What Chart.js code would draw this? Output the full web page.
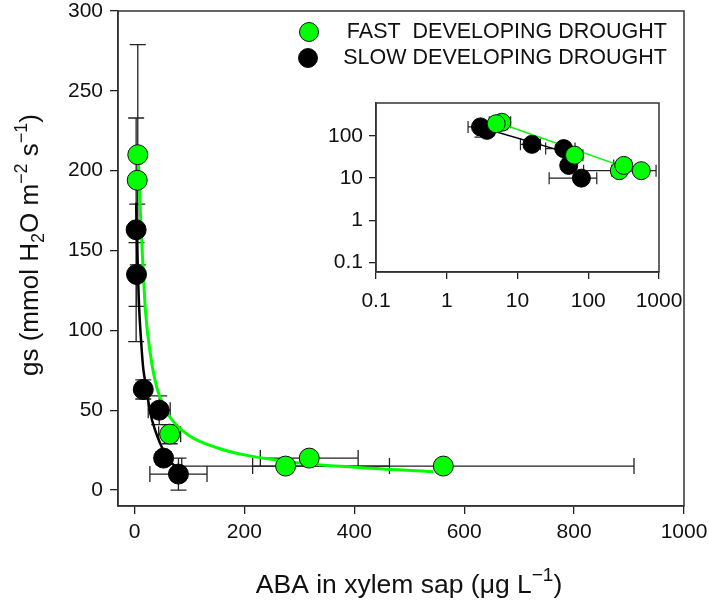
<!DOCTYPE html>
<html>
<head>
<meta charset="utf-8">
<script src="https://cdn.jsdelivr.net/npm/chart.js@4.4.0/dist/chart.umd.min.js"></script>
<style>
  body { margin: 0; background: #fff; }
  #wrap { position: relative; width: 709px; height: 600px; }
  #main { position: absolute; left: 0; top: 0; }
  #inset { position: absolute; left: 300px; top: 90px; }
</style>
</head>
<body>
<div id="wrap">
  <canvas id="main" width="709" height="600"></canvas>
  <canvas id="inset" width="390" height="230"></canvas>
</div>
<script>
// fast developing drought (green)
const fastX = [6, 5, 64, 275, 318, 562];
const fastY = [210, 194, 35, 15, 20, 15];
const fastXErr = [2, 2, 20, 189, 89, 347];
const fastYErr = [69, 15, 6, 2, 2, 2];

// slow developing drought (black)
const slowX = [3, 3.7, 16, 45, 53, 80];
const slowY = [163, 135, 63, 50, 20, 10];
const slowXErr = [1, 1, 5, 20, 6, 52];
const slowYErr = [70, 20, 6, 9, 4, 10];

// fitted curves
const fastFitX = [7, 10, 14, 20, 29, 40, 64, 100, 150, 200, 300, 400, 544];
const fastFitY = [205, 180, 150, 112, 85, 65, 46, 34, 26.5, 22, 17, 14.3, 11.5];
const slowFitX = [3, 5, 8, 12.7, 16, 20, 29, 38, 47, 60, 80];
const slowFitY = [180, 150, 118, 90, 76, 67, 48, 37, 29, 20, 13];

// fitted lines in the log-log inset
const fastLogX = [5, 540];
const fastLogY = [213, 13.5];
const slowLogX = [2.9, 60];
const slowLogY = [163, 37];

// tick labels
const xTicks = [0, 200, 400, 600, 800, 1000];
const yTicks = [0, 50, 100, 150, 200, 250, 300];
const insetXTicks = [0.1, 1, 10, 100, 1000];
const insetYTicks = [0.1, 1, 10, 100];

const GREEN = '#00ff00';
const FONT = 'Arial, "Liberation Sans", sans-serif';

const pts = (xs, ys) => xs.map((v, i) => ({ x: v, y: ys[i] }));

const errorBars = {
  id: 'errorBars',
  beforeDatasetsDraw(chart, args, opts) {
    const { ctx } = chart;
    const sx = chart.scales.x, sy = chart.scales.y;
    const logY = sy.type === 'logarithmic';
    ctx.save();
    ctx.strokeStyle = '#222';
    ctx.lineWidth = opts.width;
    opts.sets.forEach(s => {
      s.x.forEach((xv, i) => {
        const yv = s.y[i];
        const px = sx.getPixelForValue(xv), py = sy.getPixelForValue(yv);
        const c = opts.cap;
        ctx.beginPath();
        if (s.xe[i] > 0) {
          const a = sx.getPixelForValue(xv - s.xe[i]), b = sx.getPixelForValue(xv + s.xe[i]);
          ctx.moveTo(a, py); ctx.lineTo(b, py);
          ctx.moveTo(a, py - c); ctx.lineTo(a, py + c);
          ctx.moveTo(b, py - c); ctx.lineTo(b, py + c);
        }
        // no vertical bar on a log axis when the lower end is not positive
        if (s.ye[i] > 0 && !(logY && yv - s.ye[i] <= 0)) {
          const a = sy.getPixelForValue(yv - s.ye[i]), b = sy.getPixelForValue(yv + s.ye[i]);
          ctx.moveTo(px, a); ctx.lineTo(px, b);
          ctx.moveTo(px - c, a); ctx.lineTo(px + c, a);
          ctx.moveTo(px - c, b); ctx.lineTo(px + c, b);
        }
        ctx.stroke();
      });
    });
    ctx.restore();
  },
  afterDraw(chart) {
    const { ctx, chartArea: a } = chart;
    ctx.save();
    ctx.strokeStyle = '#333';
    ctx.lineWidth = 1.5;
    ctx.strokeRect(a.left, a.top, a.right - a.left, a.bottom - a.top);
    ctx.restore();
  }
};

function richText(ctx, parts, cx, cy, size, rot) {
  const small = Math.round(size * 0.7);
  const setFont = p => { ctx.font = (p.s ? small : size) + 'px ' + FONT; };
  const total = parts.reduce((acc, p) => { setFont(p); return acc + ctx.measureText(p.t).width; }, 0);
  ctx.save();
  ctx.translate(cx, cy);
  ctx.rotate(rot);
  ctx.fillStyle = '#111';
  ctx.textBaseline = 'alphabetic';
  let xx = -total / 2;
  parts.forEach(p => {
    setFont(p);
    const dy = p.s === 1 ? -size * 0.42 : p.s === -1 ? size * 0.22 : 0;
    ctx.fillText(p.t, xx, size * 0.36 + dy);
    xx += ctx.measureText(p.t).width;
  });
  ctx.restore();
}

const titles = {
  id: 'titles',
  afterDraw(chart) {
    const ctx = chart.ctx;
    richText(ctx, [
      { t: 'gs (mmol H' }, { t: '2', s: -1 }, { t: 'O m' }, { t: '\u22122', s: 1 },
      { t: ' s' }, { t: '\u22121', s: 1 }, { t: ')' }
    ], 29, 245, 26, -Math.PI / 2);
    richText(ctx, [
      { t: 'ABA in xylem sap (\u03bcg L' }, { t: '\u22121', s: 1 }, { t: ')' }
    ], 409, 583, 26.5, 0);

    // legend
    const ds = chart.data.datasets;
    const rows = [[ds[0], 309, 32, 'FAST  DEVELOPING DROUGHT'], [ds[1], 308, 58, 'SLOW DEVELOPING DROUGHT']];
    ctx.save();
    rows.forEach(([d, x, y, label]) => {
      ctx.beginPath();
      ctx.arc(x, y, 9.5, 0, Math.PI * 2);
      ctx.fillStyle = d.backgroundColor;
      ctx.fill();
      ctx.lineWidth = 1;
      ctx.strokeStyle = '#111';
      ctx.stroke();
      ctx.fillStyle = '#111';
      ctx.font = '21.5px ' + FONT;
      ctx.textAlign = 'right';
      ctx.textBaseline = 'middle';
      ctx.fillText(label, 667, y);
    });
    ctx.restore();
  }
};

function fixAxis(size, horizontal) {
  return scale => {
    if (horizontal) scale.height = size; else scale.width = size;
    scale.paddingTop = 0; scale.paddingBottom = 0;
    scale.paddingLeft = 0; scale.paddingRight = 0;
  };
}

function axisStyle(tickLen, pad) {
  return {
    grid: { display: true, drawOnChartArea: false, drawTicks: true, tickLength: tickLen, color: '#222', lineWidth: 1.3 },
    border: { display: true, color: '#333', width: 1.5 },
    ticks: { font: { family: FONT, size: 21 }, color: '#111', padding: pad, maxRotation: 0, minRotation: 0,
      autoSkip: false, callback: v => String(v) }
  };
}

const mainX = axisStyle(8, 6);
const mainY = axisStyle(8, 7);

new Chart(document.getElementById('main'), {
  type: 'scatter',
  data: {
    datasets: [
      { label: 'FAST DEVELOPING DROUGHT', data: pts(fastX, fastY), backgroundColor: GREEN, borderColor: '#111',
        borderWidth: 1, pointRadius: 10, order: 0 },
      { label: 'SLOW DEVELOPING DROUGHT', data: pts(slowX, slowY), backgroundColor: '#000', borderColor: '#000',
        borderWidth: 1, pointRadius: 10, order: 1 },
      { label: 'fast fit', data: pts(fastFitX, fastFitY), showLine: true, borderColor: GREEN, borderWidth: 3,
        pointRadius: 0, cubicInterpolationMode: 'monotone', order: 2 },
      { label: 'slow fit', data: pts(slowFitX, slowFitY), showLine: true, borderColor: '#000', borderWidth: 2.5,
        pointRadius: 0, cubicInterpolationMode: 'monotone', order: 3 }
    ]
  },
  options: {
    responsive: false,
    animation: false,
    layout: { padding: { left: 0, right: 25, top: 10, bottom: 0 } },
    plugins: {
      legend: { display: false },
      tooltip: { enabled: false },
      errorBars: {
        width: 1.3, cap: 8,
        sets: [
          { x: slowX, y: slowY, xe: slowXErr, ye: slowYErr },
          { x: fastX, y: fastY, xe: fastXErr, ye: fastYErr }
        ]
      }
    },
    scales: {
      x: {
        type: 'linear', min: -30, max: 1000,
        afterBuildTicks: s => { s.ticks = xTicks.map(v => ({ value: v })); },
        afterFit: fixAxis(94, true),
        ...mainX
      },
      y: {
        type: 'linear', min: -10, max: 300,
        afterBuildTicks: s => { s.ticks = yTicks.map(v => ({ value: v })); },
        afterFit: fixAxis(118, false),
        ...mainY
      }
    }
  },
  plugins: [errorBars, titles]
});

const insetBg = {
  id: 'insetBg',
  beforeDraw(chart) {
    const { ctx, chartArea: a } = chart;
    ctx.save();
    ctx.fillStyle = '#fff';
    ctx.fillRect(a.left, a.top, a.right - a.left, a.bottom - a.top);
    ctx.restore();
  }
};

const insX = axisStyle(7, 10);
const insY = axisStyle(7, 6);

new Chart(document.getElementById('inset'), {
  type: 'scatter',
  data: {
    datasets: [
      { data: pts(fastX, fastY), backgroundColor: GREEN, borderColor: '#111', borderWidth: 1, pointRadius: 9, order: 0 },
      { data: pts(slowX, slowY), backgroundColor: '#000', borderColor: '#000', borderWidth: 1, pointRadius: 9, order: 1 },
      { data: pts(fastLogX, fastLogY), showLine: true, borderColor: GREEN, borderWidth: 1.5, pointRadius: 0, order: 2 },
      { data: pts(slowLogX, slowLogY), showLine: true, borderColor: '#000', borderWidth: 1.5, pointRadius: 0, order: 3 }
    ]
  },
  options: {
    responsive: false,
    animation: false,
    layout: { padding: { left: 0, right: 31, top: 13, bottom: 0 } },
    plugins: {
      legend: { display: false },
      tooltip: { enabled: false },
      errorBars: {
        width: 1.2, cap: 6,
        sets: [
          { x: slowX, y: slowY, xe: slowXErr, ye: slowYErr },
          { x: fastX, y: fastY, xe: fastXErr, ye: fastYErr }
        ]
      }
    },
    scales: {
      x: {
        type: 'logarithmic', min: 0.1, max: 1000,
        afterBuildTicks: s => { s.ticks = insetXTicks.map(v => ({ value: v })); },
        afterFit: fixAxis(48, true),
        ...insX
      },
      y: {
        type: 'logarithmic', min: 0.06, max: 600,
        afterBuildTicks: s => { s.ticks = insetYTicks.map(v => ({ value: v })); },
        afterFit: fixAxis(76, false),
        ...insY
      }
    }
  },
  plugins: [insetBg, errorBars]
});
</script>
</body>
</html>
